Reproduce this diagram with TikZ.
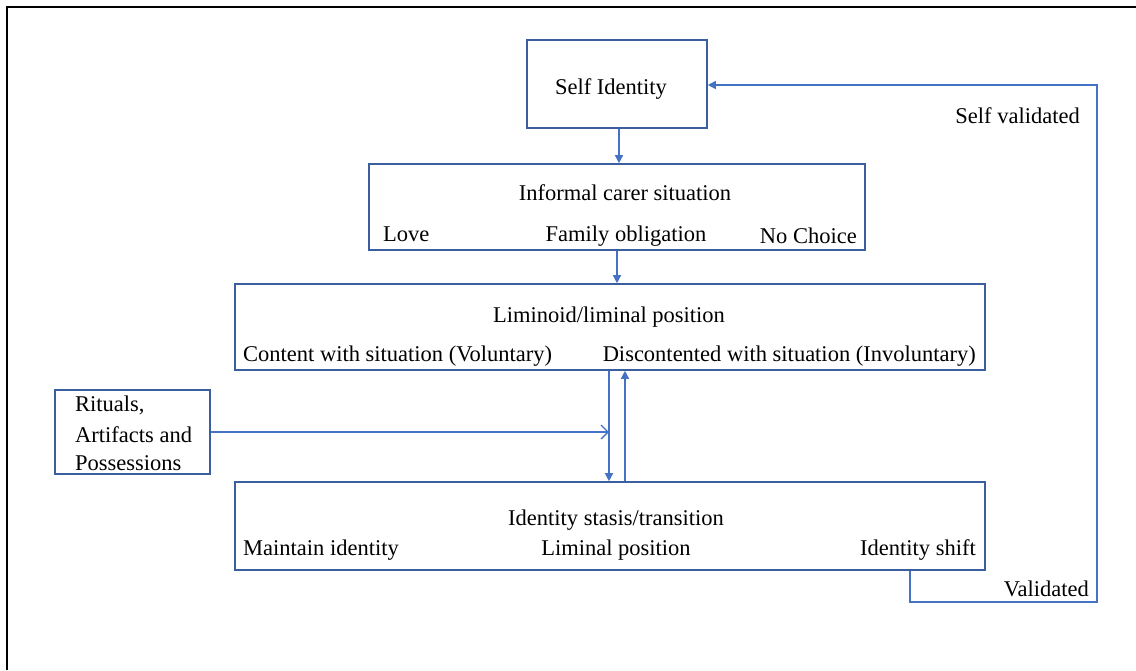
\documentclass[tikz,border=0pt]{standalone}
\usepackage{fontspec}
\setmainfont{Liberation Serif}
\usetikzlibrary{arrows.meta}
\definecolor{boxblue}{HTML}{3B5E9E}
\definecolor{lineblue}{HTML}{4472C4}
\tikzset{
  box/.style={draw=boxblue, line width=1.6pt, rectangle, inner sep=0pt},
  conn/.style={draw=lineblue, line width=1.3pt},
  arr/.style={conn, -{Triangle[length=8pt,width=8pt]}},
  openarr/.style={conn, -{Straight Barb[length=7pt,width=14pt,line width=1.3pt]}},
  lbl/.style={inner sep=0pt, font=\fontsize{22.5}{27}\selectfont}
}
\begin{document}
\begin{tikzpicture}[x=1pt,y=-1pt]
\useasboundingbox (0,0) rectangle (1136,670);
\draw[line width=2.6pt] (7,670) -- (7,7) -- (1136,7);
% boxes
\node[box, minimum width=180, minimum height=88] (self) at (617,84) {};
\node[box, minimum width=496, minimum height=86] (inf) at (617,207) {};
\node[box, minimum width=750, minimum height=86] (lim) at (610,327) {};
\node[box, minimum width=155, minimum height=84] (rit) at (132.5,432) {};
\node[box, minimum width=750, minimum height=88] (ids) at (610,526) {};
% texts
\node[lbl, anchor=base] (tself) at (611,94) {Self Identity};
\node[lbl, anchor=base] (tinf) at (625,200) {Informal carer situation};
\node[lbl, anchor=base west] (tlove) at (383,241) {Love};
\node[lbl, anchor=base] (tfam) at (626,241) {Family obligation};
\node[lbl, anchor=base east] (tno) at (857,243) {No Choice};
\node[lbl, anchor=base] (tlim) at (609,322) {Liminoid/liminal position};
\node[lbl, anchor=base west] (tcon) at (243,361) {Content with situation (Voluntary)};
\node[lbl, anchor=base east] (tdis) at (976,361) {Discontented with situation (Involuntary)};
\node[lbl, anchor=base west] (tr1) at (75,411) {Rituals,};
\node[lbl, anchor=base west] (tr2) at (75,442) {Artifacts and};
\node[lbl, anchor=base west] (tr3) at (75,470) {Possessions};
\node[lbl, anchor=base] (tids) at (616,525) {Identity stasis/transition};
\node[lbl, anchor=base west] (tmain) at (243,555) {Maintain identity};
\node[lbl, anchor=base] (tliminal) at (616,555) {Liminal position};
\node[lbl, anchor=base east] (tshift) at (976,555) {Identity shift};
\node[lbl, anchor=base east] (tval) at (1089,596) {Validated};
\node[lbl, anchor=base east] (tsval) at (1080,123) {Self validated};
% connectors
\draw[arr] ([xshift=2pt]self.south) -- ([xshift=2pt]self.south |- inf.north);
\draw[arr] (inf.south) -- (inf.south |- lim.north);
\draw[arr] ([xshift=-1pt]lim.south) -- ([xshift=-1pt]ids.north);
\draw[arr] ([xshift=15pt]ids.north) -- ([xshift=15pt]lim.south);
\draw[openarr] (rit.east) -- ([xshift=-1pt]rit.east -| lim.south);
\coordinate (fb) at (1097,602);
\draw[arr] ([xshift=300pt]ids.south) |- (fb) |- ([yshift=-1pt]self.east);
\end{tikzpicture}
\end{document}
